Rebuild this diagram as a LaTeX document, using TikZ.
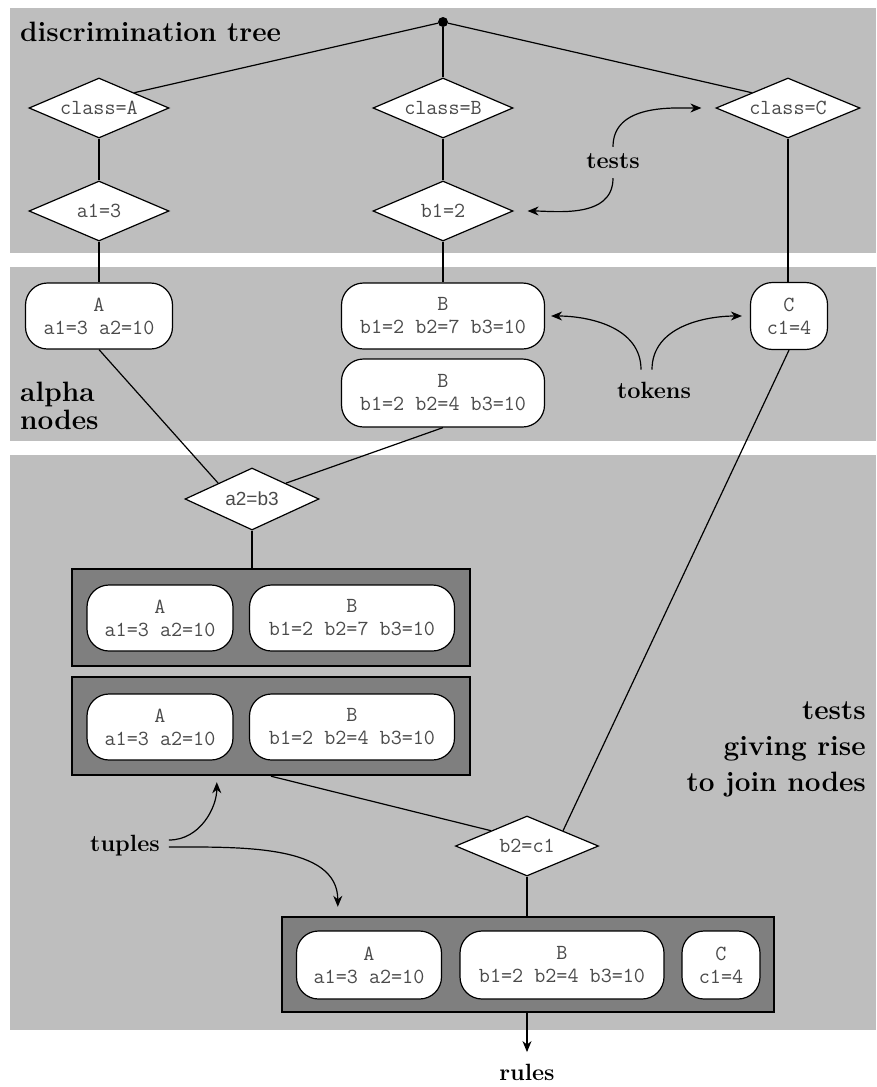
\documentclass[tikz,border=0pt]{standalone}
\usepackage{fontspec}
\newfontfamily\sansf{Liberation Sans}
\usetikzlibrary{shapes.geometric,arrows.meta}
\definecolor{bandgray}{HTML}{BEBEBE}
\definecolor{tuplefill}{HTML}{7F7F7F}
\definecolor{txtgray}{HTML}{4A4A4A}
\tikzset{
  testd/.style={diamond, draw, fill=white, line width=1.2pt, aspect=2.3, inner sep=0pt,
    minimum width=140pt, minimum height=60pt,
    font=\ttfamily\fontsize{21.5}{23}\selectfont, text=txtgray},
  token/.style={rectangle, rounded corners=22pt, draw, fill=white, line width=1.2pt,
    align=center, inner sep=0pt, minimum height=66pt,
    font=\ttfamily\fontsize{21.5}{23}\selectfont, text=txtgray},
  tuple/.style={rectangle, draw, fill=tuplefill, line width=2.4pt, inner sep=0pt},
  conn/.style={line width=1.2pt},
  arr/.style={line width=1.2pt, -{Stealth[length=11pt,width=9pt,inset=3.5pt]}},
  biglabel/.style={font=\bfseries\fontsize{28}{25}\selectfont, inner sep=0pt},
  smalllabel/.style={font=\bfseries\fontsize{23.5}{25}\selectfont, inner sep=0pt},
}
\begin{document}
\begin{tikzpicture}[x=1pt,y=-1pt]
\useasboundingbox (0,0) rectangle (877,1087);
% bands
\fill[bandgray] (10,8) rectangle (876,253);
\fill[bandgray] (10,267) rectangle (876,441);
\fill[bandgray] (10,455) rectangle (876,1030);

% labels
\node[biglabel, anchor=base west] (title) at (20,41) {discrimination tree};
\node[biglabel, anchor=west, align=left, font=\bfseries\fontsize{28}{28}\selectfont] (alpha) at (20,406) {alpha\\nodes};
\node[biglabel, anchor=east, align=right, font=\bfseries\fontsize{28}{36}\selectfont] (join) at (866,749) {tests\\giving rise\\to join nodes};
\node[smalllabel] (tests) at (613,161.5) {tests};
\node[smalllabel] (tokens) at (654,390) {tokens};
\node[smalllabel] (tuples) at (125,846) {tuples};
\node[smalllabel] (rules) at (527,1072.5) {rules};

% discrimination tree
\node[circle, fill, inner sep=0pt, minimum size=10pt] (root) at (443,22) {};
\node[testd] (cA) at (99,108) {class=A};
\node[testd] (a1) at (99,211) {a1=3};
\node[testd] (cB) at (443,108) {class=B};
\node[testd] (b1) at (443,211) {b1=2};
\node[testd, minimum width=144pt] (cC) at (788,108) {class=C};

% alpha nodes
\node[token, minimum width=147pt] (tA) at (99,316) {A\\a1=3 a2=10};
\node[token, minimum width=203pt] (tB1) at (443,316) {B\\b1=2 b2=7 b3=10};
\node[token, minimum width=203pt, minimum height=68pt] (tB2) at (443,393) {B\\b1=2 b2=4 b3=10};
\node[token, minimum width=77pt, minimum height=67pt] (tC) at (789,316) {C\\c1=4};

% join tests
\node[testd, minimum width=134pt, minimum height=62pt, font=\sansf\fontsize{19}{23}\selectfont] (d1) at (252,499) {a2=b3};
\node[testd, minimum width=143pt] (d2) at (527,846) {b2=c1};

% tuples
\node[tuple, minimum width=398pt, minimum height=97pt] (box1) at (271,617.5) {};
\node[token, minimum width=146pt] (x1A) at (160,618) {A\\a1=3 a2=10};
\node[token, minimum width=205pt] (x1B) at (352,618) {B\\b1=2 b2=7 b3=10};

\node[tuple, minimum width=398pt, minimum height=98pt] (box2) at (271,726) {};
\node[token, minimum width=146pt] (x2A) at (160,727) {A\\a1=3 a2=10};
\node[token, minimum width=205pt] (x2B) at (352,727) {B\\b1=2 b2=4 b3=10};

\node[tuple, minimum width=492pt, minimum height=95pt] (box3) at (528,964.5) {};
\node[token, minimum width=145pt, minimum height=68pt] (x3A) at (369,965) {A\\a1=3 a2=10};
\node[token, minimum width=204pt, minimum height=68pt] (x3B) at (562,965) {B\\b1=2 b2=4 b3=10};
\node[token, minimum width=78pt, minimum height=68pt] (x3C) at (721,965) {C\\c1=4};

% connectors
\draw[conn] (root) -- (cA.north east);
\draw[conn] (root) -- (cB);
\draw[conn] (root) -- (cC.north west);
\draw[conn] (cA) -- (a1);
\draw[conn] (a1) -- (tA);
\draw[conn] (cB) -- (b1);
\draw[conn] (b1) -- (tB1);
\draw[conn] (cC.south) -- (cC.south |- tC.north);
\draw[conn] (tA.south) -- (d1.north west);
\draw[conn] (tB2.south) -- (d1.north east);
\draw[conn] (d1.south) -- (d1.south |- box1.north);
\draw[conn] (box2.south) -- (d2.north west);
\draw[conn] (tC.south) -- (d2.north east);
\draw[conn] (d2.south) -- (d2.south |- box3.north);
\draw[arr] (rules.north |- box3.south) -- ([yshift=12pt]rules.north);

% annotation arrows
\draw[arr, shorten >=14pt] ([yshift=7pt]tests.north) to[out=90,in=180] (cC.west);
\draw[arr, shorten >=14pt] ([yshift=-9pt]tests.south) to[out=-90,in=0] (b1.east);
\draw[arr, shorten >=6pt] ([xshift=-13pt,yshift=12pt]tokens.north) to[out=90,in=0] (tB1.east);
\draw[arr, shorten >=8pt] ([xshift=-2pt,yshift=12pt]tokens.north) to[out=90,in=180] (tC.west);
\draw[arr, shorten >=6pt] ([xshift=9pt,yshift=6pt]tuples.east) to[out=0,in=-90] ([xshift=146pt]box2.south west);
\draw[arr, shorten >=9pt] ([xshift=9pt,yshift=-1pt]tuples.east) to[out=0,in=90] ([xshift=57pt]box3.north west);
\end{tikzpicture}
\end{document}
